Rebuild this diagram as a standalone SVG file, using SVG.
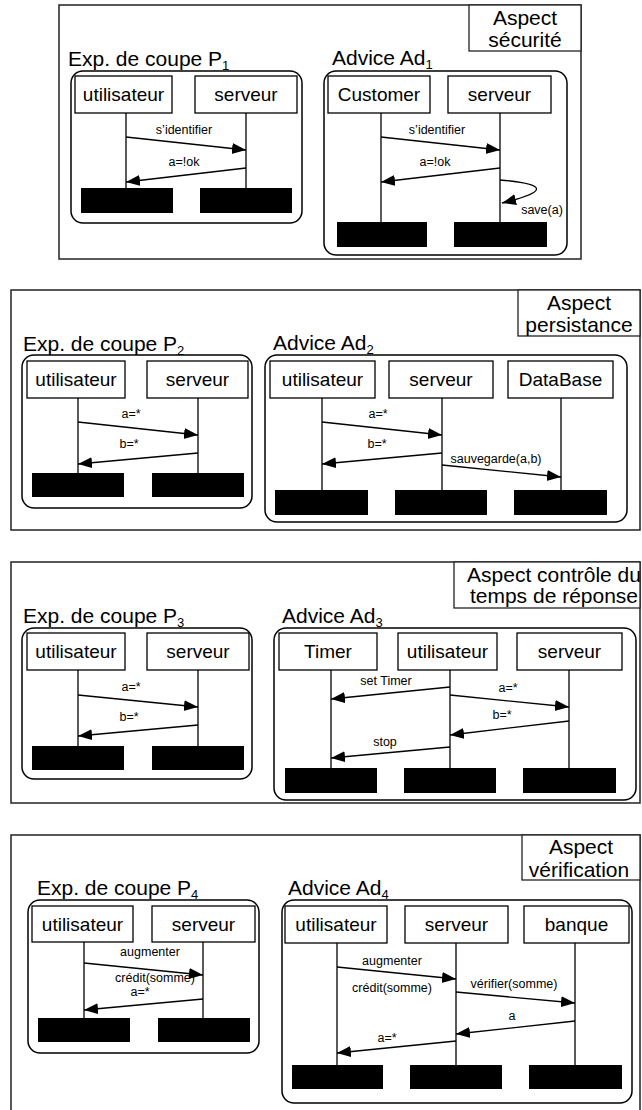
<svg xmlns="http://www.w3.org/2000/svg" width="642" height="1110" viewBox="0 0 642 1110">
<defs>
<marker id="ah" markerUnits="userSpaceOnUse" markerWidth="15" markerHeight="12" refX="14" refY="5.5" orient="auto">
<path d="M0,0 L14,5.5 L0,11 z" fill="#000"/>
</marker>
</defs>
<style>
text{font-family:"Liberation Sans",Arial,sans-serif;fill:#000}
.panel{fill:#fff;stroke:#222;stroke-width:1.5}
.aspect{fill:#fff;stroke:#222;stroke-width:1.3}
.frame{fill:none;stroke:#000;stroke-width:1.5}
.obj{fill:#fff;stroke:#000;stroke-width:1.3}
.life{stroke:#000;stroke-width:1.3}
.msg{stroke:#000;stroke-width:1.3;fill:none;marker-end:url(#ah)}
.bar{fill:#000}
.tt{font-size:21px}
.sub{font-size:13px}
.asp{font-size:21px;text-anchor:middle}
.ol{font-size:19px;text-anchor:middle}
.ml{font-size:12.5px;text-anchor:middle}
</style>
<rect width="642" height="1110" fill="#fff"/>

<!-- Panel 1 -->
<g id="panel1">
<rect class="panel" x="59" y="5" width="522" height="254"/>
<g id="aspect1"><rect class="aspect" x="469" y="5" width="112" height="46"/>
<text class="asp" x="525" y="25">Aspect</text><text class="asp" x="525" y="47">sécurité</text></g>
<g id="p1"><text class="tt" x="68" y="66">Exp. de coupe P<tspan class="sub" dy="4">1</tspan></text>
<rect class="frame" x="71" y="71" width="231" height="152" rx="12"/>
<g id="p1-u"><rect class="obj" x="75" y="76" width="97" height="37"/><text class="ol" x="123.5" y="101">utilisateur</text><line class="life" x1="126" y1="113" x2="126" y2="188"/><rect class="bar" x="81" y="188" width="92" height="25"/></g>
<g id="p1-s"><rect class="obj" x="195" y="76" width="102" height="37"/><text class="ol" x="246" y="101">serveur</text><line class="life" x1="246" y1="113" x2="246" y2="188"/><rect class="bar" x="200" y="188" width="92" height="25"/></g>
</g>
<g id="ad1"><text class="tt" x="332" y="65">Advice Ad<tspan class="sub" dy="4">1</tspan></text>
<rect class="frame" x="324" y="71" width="243" height="184" rx="12"/>
<g id="ad1-c"><rect class="obj" x="328" y="76" width="102" height="37"/><text class="ol" x="379" y="101">Customer</text><line class="life" x1="381" y1="113" x2="381" y2="222"/><rect class="bar" x="337" y="222" width="90" height="25"/></g>
<g id="ad1-s"><rect class="obj" x="448" y="76" width="103" height="37"/><text class="ol" x="499.5" y="101">serveur</text><line class="life" x1="500" y1="113" x2="500" y2="222"/><rect class="bar" x="454" y="222" width="93" height="25"/></g>
</g>
</g>

<!-- Panel 2 -->
<g id="panel2">
<rect class="panel" x="11" y="290" width="629" height="240"/>
<g id="aspect2"><rect class="aspect" x="518" y="290" width="122" height="46"/>
<text class="asp" x="579" y="310">Aspect</text><text class="asp" x="579" y="332">persistance</text></g>
<g id="p2"><text class="tt" x="23" y="351">Exp. de coupe P<tspan class="sub" dy="4">2</tspan></text>
<rect class="frame" x="22" y="355" width="230" height="153" rx="12"/>
<g id="p2-u"><rect class="obj" x="27" y="361" width="98" height="37"/><text class="ol" x="76" y="386">utilisateur</text><line class="life" x1="78" y1="398" x2="78" y2="473"/><rect class="bar" x="32" y="473" width="92" height="24"/></g>
<g id="p2-s"><rect class="obj" x="147" y="361" width="101" height="37"/><text class="ol" x="197.5" y="386">serveur</text><line class="life" x1="198" y1="398" x2="198" y2="473"/><rect class="bar" x="152" y="473" width="92" height="24"/></g>
</g>
<g id="ad2"><text class="tt" x="273" y="350">Advice Ad<tspan class="sub" dy="4">2</tspan></text>
<rect class="frame" x="265" y="355" width="362" height="167" rx="12"/>
<g id="ad2-u"><rect class="obj" x="270" y="361" width="105" height="37"/><text class="ol" x="322.5" y="386">utilisateur</text><line class="life" x1="322" y1="398" x2="322" y2="490"/><rect class="bar" x="275" y="490" width="93" height="25"/></g>
<g id="ad2-s"><rect class="obj" x="389" y="361" width="104" height="37"/><text class="ol" x="441" y="386">serveur</text><line class="life" x1="442" y1="398" x2="442" y2="490"/><rect class="bar" x="395" y="490" width="92" height="25"/></g>
<g id="ad2-d"><rect class="obj" x="508" y="361" width="105" height="37"/><text class="ol" x="560.5" y="386">DataBase</text><line class="life" x1="561" y1="398" x2="561" y2="490"/><rect class="bar" x="514" y="490" width="93" height="25"/></g>
</g>
</g>

<!-- Panel 3 -->
<g id="panel3">
<rect class="panel" x="11" y="562" width="629" height="241"/>
<g id="aspect3"><rect class="aspect" x="454" y="562" width="186" height="46"/>
<text class="asp" x="554" y="582">Aspect contrôle du</text><text class="asp" x="554" y="603">temps de réponse</text></g>
<g id="p3"><text class="tt" x="23" y="623">Exp. de coupe P<tspan class="sub" dy="4">3</tspan></text>
<rect class="frame" x="22" y="628" width="230" height="151" rx="12"/>
<g id="p3-u"><rect class="obj" x="27" y="633" width="98" height="37"/><text class="ol" x="76" y="658">utilisateur</text><line class="life" x1="78" y1="670" x2="78" y2="746"/><rect class="bar" x="32" y="746" width="92" height="24"/></g>
<g id="p3-s"><rect class="obj" x="147" y="633" width="102" height="37"/><text class="ol" x="198" y="658">serveur</text><line class="life" x1="198" y1="670" x2="198" y2="746"/><rect class="bar" x="152" y="746" width="92" height="24"/></g>
</g>
<g id="ad3"><text class="tt" x="282" y="623">Advice Ad<tspan class="sub" dy="4">3</tspan></text>
<rect class="frame" x="274" y="628" width="362" height="172" rx="12"/>
<g id="ad3-t"><rect class="obj" x="279" y="633" width="98" height="37"/><text class="ol" x="328" y="658">Timer</text><line class="life" x1="331" y1="670" x2="331" y2="768"/><rect class="bar" x="285" y="768" width="92" height="25"/></g>
<g id="ad3-u"><rect class="obj" x="398" y="633" width="99" height="37"/><text class="ol" x="447.5" y="658">utilisateur</text><line class="life" x1="450" y1="670" x2="450" y2="768"/><rect class="bar" x="404" y="768" width="92" height="25"/></g>
<g id="ad3-s"><rect class="obj" x="517" y="633" width="105" height="37"/><text class="ol" x="569.5" y="658">serveur</text><line class="life" x1="569" y1="670" x2="569" y2="768"/><rect class="bar" x="523" y="768" width="93" height="25"/></g>
</g>
</g>

<!-- Panel 4 -->
<g id="panel4">
<rect class="panel" x="11" y="835" width="629" height="285"/>
<g id="aspect4"><rect class="aspect" x="522" y="835" width="118" height="45"/>
<text class="asp" x="581" y="854">Aspect</text><text class="asp" x="579" y="877">vérification</text></g>
<g id="p4"><text class="tt" x="37" y="895">Exp. de coupe P<tspan class="sub" dy="4">4</tspan></text>
<rect class="frame" x="28" y="900" width="231" height="153" rx="12"/>
<g id="p4-u"><rect class="obj" x="32" y="906" width="101" height="36"/><text class="ol" x="82.5" y="931">utilisateur</text><line class="life" x1="84" y1="942" x2="84" y2="1018"/><rect class="bar" x="38" y="1018" width="92" height="24"/></g>
<g id="p4-s"><rect class="obj" x="152" y="906" width="103" height="36"/><text class="ol" x="203.5" y="931">serveur</text><line class="life" x1="203" y1="942" x2="203" y2="1018"/><rect class="bar" x="158" y="1018" width="92" height="24"/></g>
</g>
<g id="ad4"><text class="tt" x="288" y="895">Advice Ad<tspan class="sub" dy="4">4</tspan></text>
<rect class="frame" x="282" y="900" width="350" height="203" rx="12"/>
<g id="ad4-u"><rect class="obj" x="285" y="906" width="102" height="37"/><text class="ol" x="336" y="931">utilisateur</text><line class="life" x1="337" y1="943" x2="337" y2="1065"/><rect class="bar" x="292" y="1065" width="91" height="24"/></g>
<g id="ad4-s"><rect class="obj" x="405" y="906" width="103" height="37"/><text class="ol" x="456.5" y="931">serveur</text><line class="life" x1="456" y1="943" x2="456" y2="1065"/><rect class="bar" x="410" y="1065" width="92" height="24"/></g>
<g id="ad4-b"><rect class="obj" x="524" y="906" width="105" height="37"/><text class="ol" x="576.5" y="931">banque</text><line class="life" x1="575" y1="943" x2="575" y2="1065"/><rect class="bar" x="529" y="1065" width="93" height="24"/></g>
</g>
</g>

<g id="connectors">
<!-- panel 1 -->
<line class="msg" x1="126" y1="137" x2="246" y2="150"/><text class="ml" x="184" y="134">s’identifier</text>
<line class="msg" x1="246" y1="168" x2="126" y2="182"/><text class="ml" x="184" y="166">a=!ok</text>
<line class="msg" x1="381" y1="137" x2="500" y2="150"/><text class="ml" x="437" y="134">s’identifier</text>
<line class="msg" x1="500" y1="168" x2="381" y2="182"/><text class="ml" x="435" y="166">a=!ok</text>
<path class="msg" d="M500,180 Q572,186 502,203"/><text class="ml" x="542" y="214">save(a)</text>
<!-- panel 2 -->
<line class="msg" x1="78" y1="422" x2="198" y2="435"/><text class="ml" x="131" y="418">a=*</text>
<line class="msg" x1="198" y1="453" x2="78" y2="464"/><text class="ml" x="129" y="448">b=*</text>
<line class="msg" x1="322" y1="422" x2="442" y2="435"/><text class="ml" x="378" y="418">a=*</text>
<line class="msg" x1="442" y1="453" x2="322" y2="464"/><text class="ml" x="377" y="448">b=*</text>
<line class="msg" x1="442" y1="465" x2="561" y2="477"/><text class="ml" x="496" y="463">sauvegarde(a,b)</text>
<!-- panel 3 -->
<line class="msg" x1="78" y1="695" x2="198" y2="707"/><text class="ml" x="131" y="691">a=*</text>
<line class="msg" x1="198" y1="725" x2="78" y2="736"/><text class="ml" x="129" y="721">b=*</text>
<line class="msg" x1="450" y1="687" x2="331" y2="699"/><text class="ml" x="386" y="685">set Timer</text>
<line class="msg" x1="450" y1="695" x2="569" y2="707"/><text class="ml" x="508" y="692">a=*</text>
<line class="msg" x1="569" y1="721" x2="450" y2="735"/><text class="ml" x="502" y="719">b=*</text>
<line class="msg" x1="450" y1="747" x2="331" y2="758"/><text class="ml" x="385" y="746">stop</text>
<!-- panel 4 -->
<line class="msg" x1="84" y1="963" x2="203" y2="975"/><text class="ml" x="150" y="956">augmenter</text><text class="ml" x="155" y="982">crédit(somme)</text>
<line class="msg" x1="203" y1="999" x2="84" y2="1010"/><text class="ml" x="140" y="996">a=*</text>
<line class="msg" x1="337" y1="967" x2="456" y2="979"/><text class="ml" x="392" y="965">augmenter</text><text class="ml" x="392" y="992">crédit(somme)</text>
<line class="msg" x1="456" y1="992" x2="575" y2="1003"/><text class="ml" x="514" y="988">vérifier(somme)</text>
<line class="msg" x1="575" y1="1021" x2="456" y2="1034"/><text class="ml" x="512" y="1020">a</text>
<line class="msg" x1="456" y1="1041" x2="337" y2="1053"/><text class="ml" x="387" y="1042">a=*</text>
</g>
</svg>
